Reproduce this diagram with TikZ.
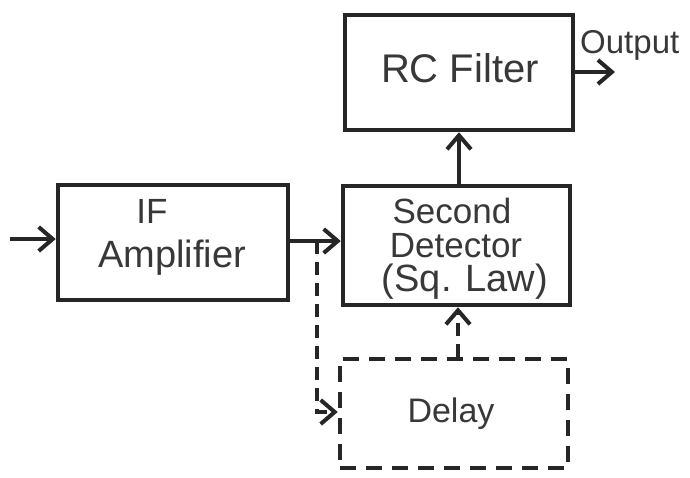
\documentclass[tikz,border=0pt]{standalone}
\usepackage{fontspec}
\setmainfont{Liberation Sans}
\usetikzlibrary{arrows.meta}
\definecolor{ink}{gray}{0.15}
\definecolor{txtc}{gray}{0.22}
\begin{document}
\begin{tikzpicture}[x=1pt,y=-1pt,
  box/.style={draw=ink, line width=4.5pt, inner sep=0pt},
  dbox/.style={box, dash pattern=on 16pt off 10pt},
  lbl/.style={text=txtc, inner sep=0pt, anchor=base, font=\fontsize{35}{42}\selectfont},
  conn/.style={draw=ink, line width=4pt, -{Straight Barb[length=14pt,width=24pt]}},
  dconn/.style={conn, dash pattern=on 13pt off 8pt}]
\useasboundingbox (0,0) rectangle (690,477);
\fill[white] (0,0) rectangle (690,477);
% boxes
\node[box, minimum width=228pt, minimum height=115pt] (rc) at (459,72.5) {};
\node[box, minimum width=230pt, minimum height=115pt] (ifa) at (173,242.5) {};
\node[box, minimum width=227pt, minimum height=119pt] (sd) at (456.5,245.5) {};
\node[dbox, minimum width=228pt, minimum height=109pt] (dl) at (454,413.5) {};
% labels
\node[lbl, font=\fontsize{40}{48}\selectfont] (trc) at (460,82) {RC Filter};
\node[lbl] (tif1) at (152,223) {IF};
\node[lbl, font=\fontsize{38}{44}\selectfont] (tif2) at (172,267) {Amplifier};
\node[lbl] (tsd1) at (452,223) {Second};
\node[lbl] (tsd2) at (456,257) {Detector};
\node[lbl, font=\fontsize{38}{46}\selectfont] (tsd3) at (465,291) {(Sq. Law)};
\node[lbl, font=\fontsize{34}{40}\selectfont] (tdl) at (451,422) {Delay};
\node[lbl, anchor=base west, font=\fontsize{33}{40}\selectfont] (tout) at (580,53) {Output};
% free ends
\coordinate (in) at (10,239);
\coordinate (out) at (615,72);
\coordinate (j) at (317,241);
% connectors
\draw[conn] (in) -- (in -| ifa.west);
\draw[conn] (ifa.east |- j) -- (sd.west |- j);
\draw[dconn] (j) |- (dl.west |- 0,412);
\draw[dconn] (dl.north -| 458,0) -- (sd.south -| 458,0);
\draw[conn] (sd.north -| rc.south) -- (rc.south);
\draw[conn] (rc.east |- out) -- (out);
\end{tikzpicture}
\end{document}
